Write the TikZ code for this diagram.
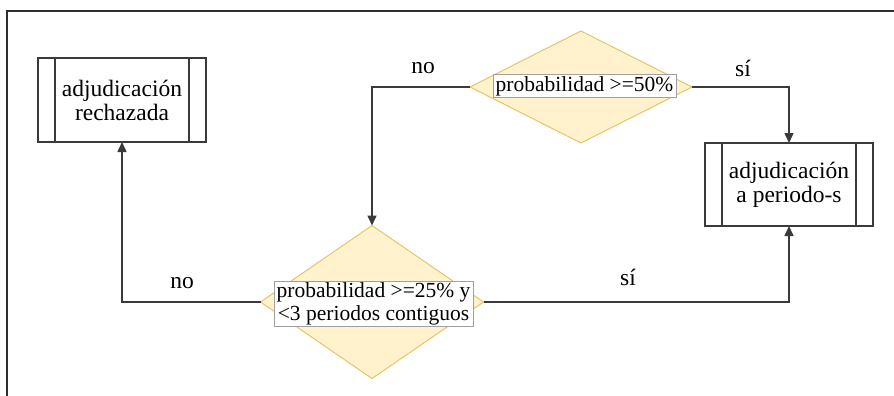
\documentclass[tikz,border=0pt]{standalone}
\usepackage{fontspec}
\setmainfont{Liberation Serif}
\usetikzlibrary{shapes.geometric,arrows.meta}
\definecolor{dfill}{HTML}{FFF2CC}
\definecolor{dline}{HTML}{E8C46A}
\definecolor{ln}{HTML}{3A3A3A}
\definecolor{lbox}{HTML}{A0A0A0}
\tikzset{
  txt/.style={font=\fontsize{21.5}{23}\selectfont, text=black},
  bigtxt/.style={font=\fontsize{23.5}{24}\selectfont, text=black},
  decision/.style={diamond, draw=dline, fill=dfill, line width=1pt, minimum width=222pt, minimum height=112pt, inner sep=0pt, outer sep=0pt},
  lab/.style={txt, draw=lbox, fill=white, line width=0.6pt, inner xsep=2.5pt, inner ysep=1.5pt, align=center},
  proc/.style={bigtxt, draw=ln, line width=1.2pt, minimum width=168pt, minimum height=84pt, inner sep=0pt, outer sep=0pt, align=center},
  conn/.style={draw=ln, line width=1.5pt, -{Triangle[length=10pt,width=9pt]}},
  frame/.style={draw=ln!80!black, line width=2pt}
}
\begin{document}
\begin{tikzpicture}[x=1pt,y=-1pt]
\useasboundingbox (0,0) rectangle (894,396);
\draw[frame] (7,396) -- (7,11) -- (894,11);
% decisions
\node[decision] (d1) at (581,87) {};
\node[decision, minimum height=153pt, minimum width=223pt] (d2) at (372,302) {};
\node[lab] (l1) at (584.5,86) {probabilidad >=50\%};
\node[lab] (l2) at (373.5,304) {probabilidad >=25\% y\\<3 periodos contiguos};
% processes
\node[proc] (r1) at (122,100) {adjudicación\\rechazada};
\node[proc, minimum height=83pt] (r2) at (789,184.5) {adjudicación\\a periodo-s};
\foreach \n in {r1,r2}{
  \draw[draw=ln, line width=1.2pt] ([xshift=17pt]\n.north west) -- ([xshift=17pt]\n.south west);
  \draw[draw=ln, line width=1.2pt] ([xshift=-17pt]\n.north east) -- ([xshift=-17pt]\n.south east);
}
% connectors
\draw[conn] (d1.west) -| (d2.north);
\draw[conn] (d1.east) -| (r2.north);
\draw[conn] (d2.west) -| (r1.south);
\draw[conn] (d2.east) -| (r2.south);
% edge labels
\node[bigtxt] (n1) at (423,68) {no};
\node[bigtxt] (s1) at (743,68) {sí};
\node[bigtxt] (n2) at (182,283) {no};
\node[bigtxt] (s2) at (628,277) {sí};
\end{tikzpicture}
\end{document}
